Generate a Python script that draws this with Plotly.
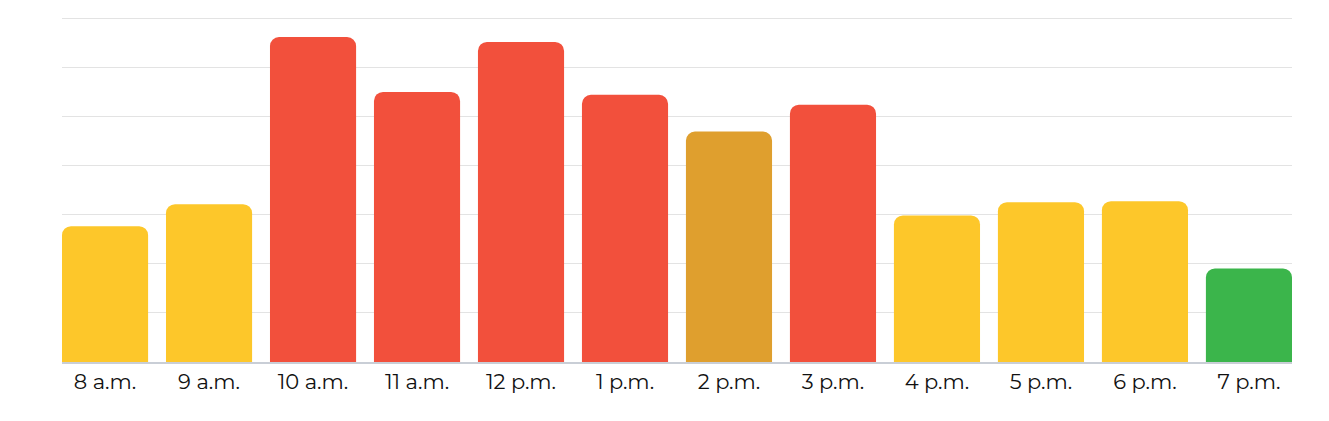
import plotly.graph_objects as go

hours = ["8 a.m.", "9 a.m.", "10 a.m.", "11 a.m.", "12 p.m.", "1 p.m.",
         "2 p.m.", "3 p.m.", "4 p.m.", "5 p.m.", "6 p.m.", "7 p.m."]
busyness = [2.77, 3.22, 6.63, 5.51, 6.53, 5.45, 4.70, 5.25, 2.99, 3.26, 3.28, 1.91]
bar_colors = ["#FDC72A", "#FDC72A", "#F2503C", "#F2503C", "#F2503C", "#F2503C",
              "#DF9F2E", "#F2503C", "#FDC72A", "#FDC72A", "#FDC72A", "#3BB54B"]

fig = go.Figure(go.Bar(
    x=list(range(len(hours))), y=busyness,
    marker=dict(color=bar_colors, line=dict(width=0)),
    width=0.828, hoverinfo="skip",
))
fig.update_layout(
    width=1329, height=421,
    margin=dict(l=54, r=45, t=5, b=67),
    paper_bgcolor="white", plot_bgcolor="white",
    barcornerradius=9,
    showlegend=False,
    font=dict(family="Montserrat, Lato, Open Sans, sans-serif", size=21, color="#111111"),
    xaxis=dict(
        tickmode="array", tickvals=list(range(len(hours))), ticktext=hours,
        range=[-0.414, 11.414], showgrid=False, zeroline=False,
        showline=True, linecolor="#C9CED6", linewidth=1.5, ticks="", ticklen=0,
    ),
    yaxis=dict(
        range=[0, 7.12], tickvals=[1, 2, 3, 4, 5, 6, 7], showticklabels=False,
        gridcolor="#E3E3E3", gridwidth=1, zeroline=False, showline=False,
    ),
)
fig.write_html("out.html")
